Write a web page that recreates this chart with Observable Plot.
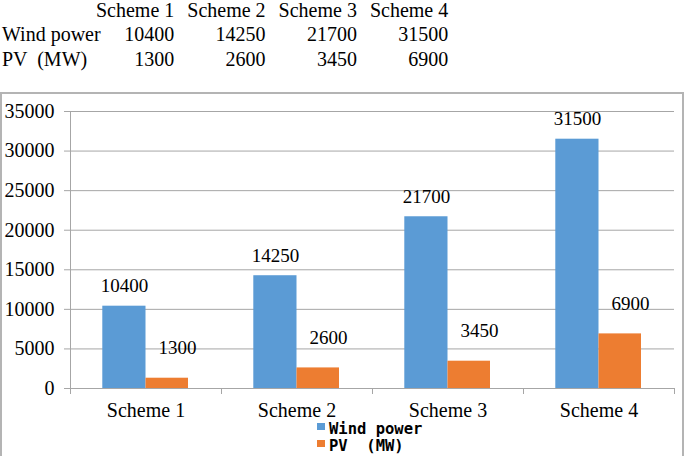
<!DOCTYPE html>
<html>
<head>
<meta charset="utf-8">
<script src="https://cdn.jsdelivr.net/npm/d3@7"></script>
<script src="https://cdn.jsdelivr.net/npm/@observablehq/plot@0.6"></script>
<style>
  html, body { margin: 0; padding: 0; background: #fff; }
  body { width: 685px; height: 456px; position: relative; overflow: hidden; }
  #table { position: absolute; left: 2px; top: -2.3px; font-family: "Liberation Serif", serif; font-size: 20px; line-height: 24.5px; color: #000; }
  #table .row { position: relative; height: 24.5px; white-space: pre; }
  #table .cell { position: absolute; top: 0; text-align: right; white-space: pre; }
  #box { position: absolute; left: 0; top: 92px; width: 684px; height: 380px; box-sizing: border-box; border: 2px solid #b4b4b4; }
  #chart { position: absolute; left: 0; top: 92px; }
  #legend { position: absolute; left: 316px; top: 421.3px; font-family: "DejaVu Sans Mono", monospace; font-weight: bold; font-size: 15.5px; line-height: 16.7px; color: #000; }
  #legend .item { position: relative; height: 16.7px; white-space: pre; }
  #legend .sw { position: absolute; left: 1px; top: 1.6px; width: 8px; height: 7.5px; }
  #legend .lab { position: absolute; left: 13px; top: 0; white-space: pre; }
</style>
</head>
<body>
<div id="table"></div>
<div id="box"></div>
<div id="chart"></div>
<div id="legend"></div>
<script>
const categories = ["Scheme 1", "Scheme 2", "Scheme 3", "Scheme 4"];
const seriesNames = ["Wind power", "PV  (MW)"];
const windPower = [10400, 14250, 21700, 31500];
const pv = [1300, 2600, 3450, 6900];
const yTicks = [0, 5000, 10000, 15000, 20000, 25000, 30000, 35000];
const colors = ["#5b9bd5", "#ed7d31"];

// Top data table
const table = document.getElementById("table");
const colRight = (j) => 172.3 + j * 91.3;
function addRow(label, values) {
  const row = document.createElement("div");
  row.className = "row";
  const lab = document.createElement("div");
  lab.className = "cell";
  lab.style.left = "0px";
  lab.style.textAlign = "left";
  lab.textContent = label;
  row.appendChild(lab);
  values.forEach((v, j) => {
    const c = document.createElement("div");
    c.className = "cell";
    c.style.left = (colRight(j) - 91) + "px";
    c.style.width = "91px";
    c.textContent = String(v);
    row.appendChild(c);
  });
  table.appendChild(row);
}
addRow("", categories);
addRow(seriesNames[0], windPower);
addRow(seriesNames[1], pv);

const windRows = categories.map((c, i) => ({category: c, value: windPower[i]}));
const pvRows = categories.map((c, i) => ({category: c, value: pv[i]}));
const gridColor = "#a6a6a6";
const serif = "Liberation Serif, serif";

const chart = Plot.plot({
  width: 685,
  height: 330,
  marginLeft: 70,
  marginRight: 11,
  marginTop: 19,
  marginBottom: 34,
  x: {domain: categories, paddingInner: 0, paddingOuter: 0, label: null},
  y: {domain: [0, 35000], label: null},
  style: {fontFamily: serif, fontSize: "20px", color: "#000", background: "transparent", overflow: "visible"},
  marks: [
    Plot.ruleY(yTicks, {stroke: gridColor, strokeWidth: 1}),
    Plot.barY(windRows, {x: "category", y: "value", fill: colors[0], insetLeft: 32.3, insetRight: 75.5}),
    Plot.barY(pvRows, {x: "category", y: "value", fill: colors[1], insetLeft: 75.5, insetRight: 33}),
    Plot.ruleX([categories[0]], {dx: -75.5, y1: 0, y2: 35000, stroke: gridColor}),
    Plot.ruleX(categories, {dx: -75.5, y1: 0, y2: 0, insetBottom: -6, stroke: gridColor}),
    Plot.ruleX([categories[categories.length - 1]], {dx: 75.5, y1: 0, y2: 0, insetBottom: -6, stroke: gridColor}),
    Plot.axisY(yTicks, {tickSize: 6, tickPadding: 10, stroke: gridColor, fill: "#000", fontSize: 20, fontFamily: serif, label: null, tickFormat: d => String(d)}),
    Plot.axisX({tickSize: 0, tickPadding: 14.5, fill: "#000", fontSize: 20, fontFamily: serif, label: null}),
    Plot.text(windRows, {x: "category", y: "value", text: d => String(d.value), dx: -21.6, dy: -20, fontSize: 19, fontFamily: serif, fill: "#000"}),
    Plot.text(pvRows, {x: "category", y: "value", text: d => String(d.value), dx: 31.6, dy: -30, fontSize: 19, fontFamily: serif, fill: "#000"})
  ]
});
document.getElementById("chart").appendChild(chart);

// Legend
const legend = document.getElementById("legend");
seriesNames.forEach((name, i) => {
  const item = document.createElement("div");
  item.className = "item";
  const sw = document.createElement("div");
  sw.className = "sw";
  sw.style.background = colors[i];
  const lab = document.createElement("div");
  lab.className = "lab";
  lab.textContent = name;
  item.appendChild(sw);
  item.appendChild(lab);
  legend.appendChild(item);
});
</script>
</body>
</html>
